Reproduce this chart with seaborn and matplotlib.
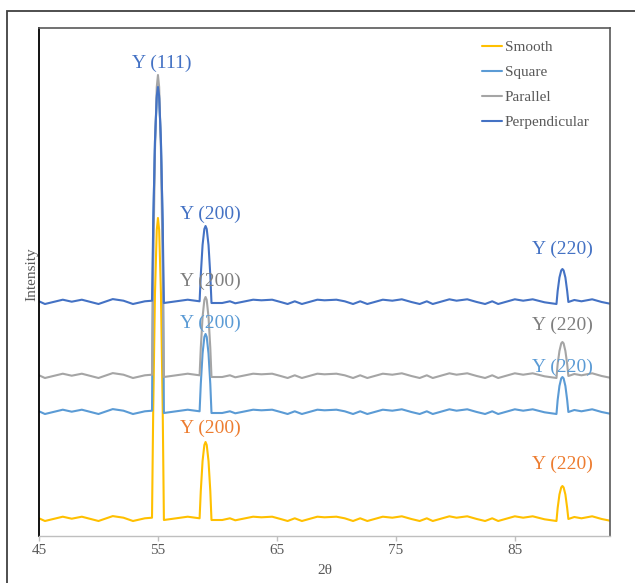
import matplotlib
matplotlib.use("Agg")
import matplotlib.pyplot as plt
import matplotlib.patches as mpatches
import pandas as pd
import seaborn as sns

# 2-theta positions shared by all four diffraction patterns
two_theta = [45.0, 45.5, 47.0, 47.75, 48.6, 50.0, 51.2, 52.1, 52.9, 53.9,
             54.5, 54.6, 54.75, 54.9, 55.0, 55.1, 55.25, 55.4, 55.5,
             57.5, 58.5, 58.6, 58.75, 58.9, 59.0, 59.1, 59.25, 59.4, 59.5,
             60.4, 61.05, 61.5, 63.0, 63.7, 64.6, 65.4, 65.9, 66.5, 67.1, 68.4, 69.0, 70.0,
             70.7, 71.4, 72.0, 72.6, 73.9, 74.7, 75.5, 76.3, 77.0, 77.6,
             78.1, 79.5, 80.1, 81.0, 81.8, 82.5, 83.1, 83.6, 85.0, 85.7,
             86.5, 87.5, 88.5, 88.6, 88.75, 88.9, 89.0, 89.1, 89.25, 89.4, 89.5,
             90.0, 90.6, 91.5, 92.3, 93.0]

# Intensities (stacked, arbitrary units)
smooth = [17.7, 15.0, 19.3, 17.3, 19.3, 15.0, 19.9, 18.3, 15.0, 17.7,
          18.3, 125, 243, 306, 318, 306, 243, 125, 16.0,
          19.3, 17.7, 45, 75, 91, 94, 91, 75, 45, 16.0,
          16.0, 17.7, 15.7, 19.3, 18.7, 19.3, 16.7, 15.0, 17.7, 15.0, 19.3, 18.7, 19.3,
          17.7, 15.0, 17.7, 15.0, 19.3, 18.3, 19.7, 17.0, 15.0, 17.7,
          15.0, 19.7, 18.3, 19.7, 17.0, 15.0, 17.7, 15.0, 19.7, 18.3,
          19.7, 16.7, 15.0, 28, 41.5, 48.6, 50, 48.6, 41.5, 28, 17.0,
          19.0, 17.7, 19.7, 17.0, 15.3]

square = [124.7, 122.0, 126.3, 124.3, 126.3, 122.0, 126.9, 125.3, 122.0, 124.7,
          125.3, 311, 395, 438, 444, 438, 395, 311, 123.0,
          126.3, 124.7, 152, 182.5, 199, 202, 199, 182.5, 152, 123.0,
          123.0, 124.7, 122.7, 126.3, 125.7, 126.3, 123.7, 122.0, 124.7, 122.0, 126.3, 125.7, 126.3,
          124.7, 122.0, 124.7, 122.0, 126.3, 125.3, 126.7, 124.0, 122.0, 124.7,
          122.0, 126.7, 125.3, 126.7, 124.0, 122.0, 124.7, 122.0, 126.7, 125.3,
          126.7, 123.7, 122.0, 136, 150, 157.6, 159, 157.6, 150, 136, 124.0,
          126.0, 124.7, 126.7, 124.0, 122.3]

parallel = [160.7, 158.0, 162.3, 160.3, 162.3, 158.0, 162.9, 161.3, 158.0, 160.7,
            161.3, 268, 386, 449, 461, 449, 386, 268, 159.0,
            162.3, 160.7, 188, 219, 236, 239, 236, 219, 188, 159.0,
            159.0, 160.7, 158.7, 162.3, 161.7, 162.3, 159.7, 158.0, 160.7, 158.0, 162.3, 161.7, 162.3,
            160.7, 158.0, 160.7, 158.0, 162.3, 161.3, 162.7, 160.0, 158.0, 160.7,
            158.0, 162.7, 161.3, 162.7, 160.0, 158.0, 160.7, 158.0, 162.7, 161.3,
            162.7, 159.7, 158.0, 172, 185, 192.6, 194, 192.6, 185, 172, 160.0,
            162.0, 160.7, 162.7, 160.0, 158.3]

perpendicular = [234.7, 232.0, 236.3, 234.3, 236.3, 232.0, 236.9, 235.3, 232.0, 234.7,
                 235.3, 311, 395, 440, 449, 440, 395, 311, 233.0,
                 236.3, 234.7, 261, 291, 307, 310, 307, 291, 261, 233.0,
                 233.0, 234.7, 232.7, 236.3, 235.7, 236.3, 233.7, 232.0, 234.7, 232.0, 236.3, 235.7, 236.3,
                 234.7, 232.0, 234.7, 232.0, 236.3, 235.3, 236.7, 234.0, 232.0, 234.7,
                 232.0, 236.7, 235.3, 236.7, 234.0, 232.0, 234.7, 232.0, 236.7, 235.3,
                 236.7, 233.7, 232.0, 245, 258.5, 265.6, 267, 265.6, 258.5, 245, 234.0,
                 236.0, 234.7, 236.7, 234.0, 232.3]

series_names = ["Smooth", "Square", "Parallel", "Perpendicular"]
series_colors = ["#FFC000", "#5B9BD5", "#A5A5A5", "#4472C4"]
x_ticks = [45, 55, 65, 75, 85]

# Peak labels: (text, x, y, colour)
peak_labels = [
    ("Y (111)", 55.3, 473, "#4472C4"),
    ("Y (200)", 59.4, 322, "#4472C4"),
    ("Y (200)", 59.4, 255, "#7F7F7F"),
    ("Y (200)", 59.4, 213, "#5B9BD5"),
    ("Y (200)", 59.4, 108, "#ED7D31"),
    ("Y (220)", 89.0, 287, "#4472C4"),
    ("Y (220)", 89.0, 211, "#7F7F7F"),
    ("Y (220)", 89.0, 169, "#5B9BD5"),
    ("Y (220)", 89.0, 72, "#ED7D31"),
]

sns.set_theme(style="white")
plt.rcParams["font.family"] = ["Liberation Serif", "DejaVu Serif"]

frames = []
for name, vals in zip(series_names, [smooth, square, parallel, perpendicular]):
    frames.append(pd.DataFrame({"two_theta": two_theta, "intensity": vals, "sample": name}))
df = pd.concat(frames, ignore_index=True)

fig = plt.figure(figsize=(6.35, 5.83), dpi=100)
ax = fig.add_axes([39 / 635, 1 - 536 / 583, 571 / 635, 508 / 583])

sns.lineplot(data=df, x="two_theta", y="intensity", hue="sample",
             hue_order=series_names, palette=series_colors,
             estimator=None, sort=False, linewidth=1.5, ax=ax)

ax.set_xlim(45, 93)
ax.set_ylim(0, 508)
ax.set_xticks(x_ticks)
ax.set_xticklabels([str(t) for t in x_ticks], fontsize=11, color="#595959")
ax.set_yticks([])
ax.tick_params(axis="x", bottom=True, direction="out", length=3.6, width=1,
               color="#BFBFBF", pad=2.5)
ax.set_xlabel("2θ", fontsize=11, color="#595959", labelpad=5)
ax.set_ylabel("Intensity", fontsize=11, color="#595959", labelpad=0.5)
ax.yaxis.label.set_y(0.516)

for side in ["top", "right"]:
    ax.spines[side].set_color("#595959")
    ax.spines[side].set_linewidth(1.2)
ax.spines["left"].set_color("#000000")
ax.spines["left"].set_linewidth(1.3)
ax.spines["bottom"].set_color("#BFBFBF")
ax.spines["bottom"].set_linewidth(1.0)

for text, x, y, c in peak_labels:
    ax.text(x, y, text, color=c, fontsize=14, ha="center", va="center")

handles, labels = ax.get_legend_handles_labels()
leg = ax.legend(handles, labels, loc="upper left", bbox_to_anchor=(0.765, 0.987),
                frameon=False, fontsize=11, handlelength=1.3, handletextpad=0.2,
                labelspacing=0.73, borderaxespad=0)
for t in leg.get_texts():
    t.set_color("#595959")

# Outer chart border
fig.patches.append(mpatches.Rectangle((7 / 635, -0.05), 1.1, 1 - 11 / 583 + 0.05,
                                      transform=fig.transFigure, fill=False,
                                      edgecolor="#404040", linewidth=1.3))

fig.savefig("out.png", dpi=100)
